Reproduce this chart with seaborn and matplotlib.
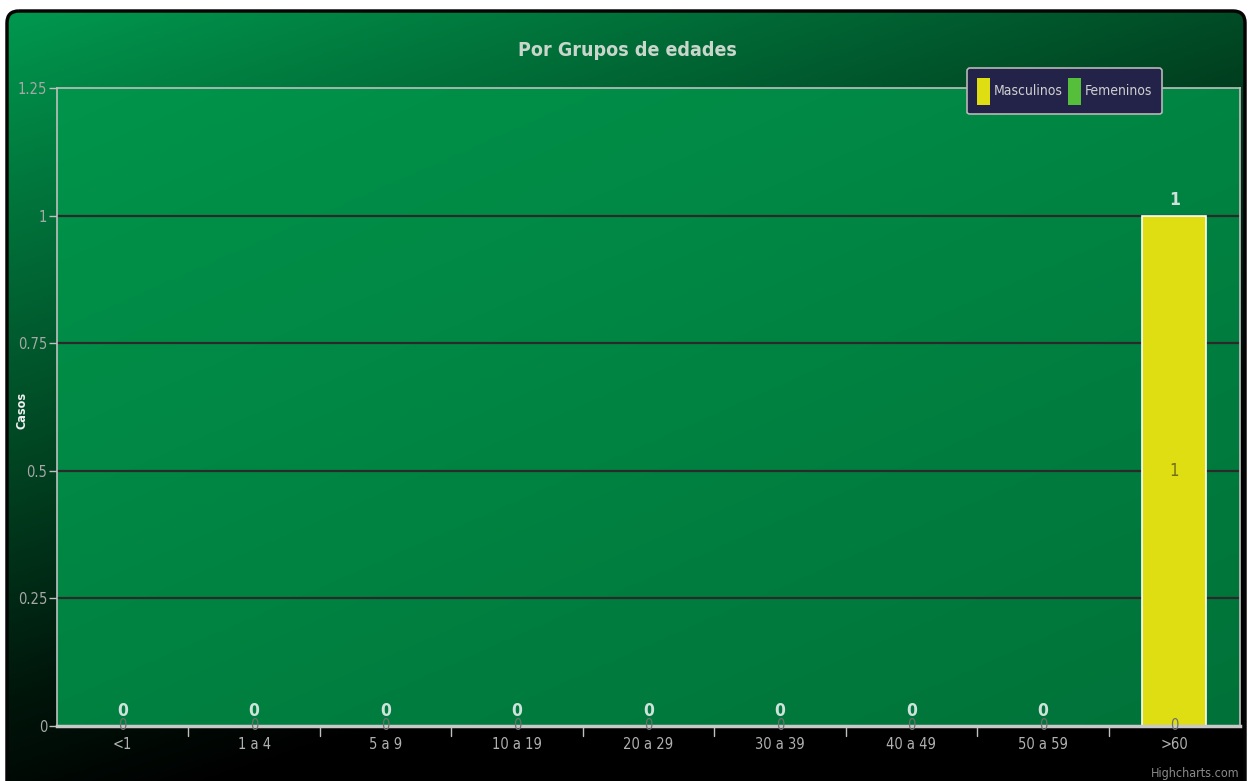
import numpy as np
import pandas as pd
import matplotlib
matplotlib.use("Agg")
import matplotlib.pyplot as plt
from matplotlib.patches import FancyBboxPatch
from matplotlib.colors import LinearSegmentedColormap
from matplotlib import font_manager
import seaborn as sns

# ---- data ----
categories = ["<1", "1 a 4", "5 a 9", "10 a 19", "20 a 29", "30 a 39", "40 a 49", "50 a 59", ">60"]
masculinos = [0, 0, 0, 0, 0, 0, 0, 0, 1]
femeninos = [0, 0, 0, 0, 0, 0, 0, 0, 0]
y_ticks = [0, 0.25, 0.5, 0.75, 1, 1.25]
y_tick_labels = ["0", "0.25", "0.5", "0.75", "1", "1.25"]
title = "Por Grupos de edades"
y_title = "Casos"
series_names = ["Masculinos", "Femeninos"]
credit = "Highcharts.com"

sns.set_theme(style="white")
# prefer a condensed face when one is installed
narrow_fams = [f.name for f in font_manager.fontManager.ttflist
               if f.stretch in ("condensed", "semi-condensed", "extra-condensed")
               or "Narrow" in f.name or "Condensed" in f.name]
base = narrow_fams[0] if narrow_fams else "Liberation Sans"
plt.rcParams["font.family"] = [base, "DejaVu Sans"]
plt.rcParams["font.stretch"] = "condensed"

W, H = 1248, 781
fig = plt.figure(figsize=(W / 100, H / 100), dpi=100)
fig.patch.set_facecolor("white")

# ---- outer chart background: rounded box with diagonal dark-green gradient ----
bg = fig.add_axes([0, 0, 1, 1], zorder=-10)
bg.set_xlim(0, W)
bg.set_ylim(H, 0)
bg.axis("off")
u = np.linspace(0, 1, 400)[None, :]
v = np.linspace(0, 1, 300)[:, None]
t = np.clip(0.45 * u + 0.85 * v, 0, 1)
outer_cmap = LinearSegmentedColormap.from_list(
    "outer", [(0, (0, 152/255, 78/255)), (0.45, (0, 76/255, 38/255)),
              (0.75, (0, 22/255, 11/255)), (0.92, (0, 0, 0)), (1.0, (0, 0, 0))])
img = bg.imshow(t, cmap=outer_cmap, vmin=0, vmax=1, extent=(6, 1246, 790, 10),
                aspect="auto", interpolation="bilinear")
frame = FancyBboxPatch((7, 11), 1238, 800, boxstyle="round,pad=0,rounding_size=12",
                       transform=bg.transData, facecolor="none", edgecolor="#050505", lw=2.5)
bg.add_patch(frame)
img.set_clip_path(frame)

# ---- plot area ----
left, right, top, bottom = 57, 1240, 88, 726
ax = fig.add_axes([left / W, 1 - bottom / H, (right - left) / W, (bottom - top) / H])
ax.set_facecolor("none")

pu = np.linspace(0, 1, 200)[None, :]
pv = np.linspace(0, 1, 120)[:, None]
pt = np.clip(0.45 * pu + 0.55 * pv, 0, 1)
plot_cmap = LinearSegmentedColormap.from_list(
    "plot", [(0, (0, 148/255, 74/255)), (1, (0, 114/255, 57/255))])
ax.imshow(pt, cmap=plot_cmap, vmin=0, vmax=1, extent=(-0.5, 8.5, 0, 1.25),
          aspect="auto", zorder=0, interpolation="bilinear")

df = pd.DataFrame({"grupo": categories, "Masculinos": masculinos, "Femeninos": femeninos})
sns.barplot(data=df, x="grupo", y="Masculinos", color="#DEDE12", width=0.49,
            edgecolor="white", linewidth=1.2, saturation=1, ax=ax, zorder=3)
sns.barplot(data=df, x="grupo", y="Femeninos", color="#55BF3B", width=0.49,
            edgecolor="white", linewidth=1.2, saturation=1, ax=ax, zorder=3)

ax.set_xlim(-0.5, len(categories) - 0.5)
ax.set_ylim(0, 1.25)

for yv in y_ticks[1:-1]:
    ax.axhline(yv, color="#2a2a2a", lw=1.6, zorder=1)

for side in ["top", "left", "right"]:
    ax.spines[side].set_visible(True)
    ax.spines[side].set_color("#c0c0c0")
    ax.spines[side].set_linewidth(1.2)
ax.spines["bottom"].set_color("#c8c8c8")
ax.spines["bottom"].set_linewidth(2.5)
for s in ax.spines.values():
    s.set_zorder(4)

ax.set_yticks(y_ticks)
ax.set_yticklabels(y_tick_labels)
ax.tick_params(axis="y", direction="out", length=6, width=1, color="#c0c0c0",
               labelcolor="#a8a8a8", labelsize=10.5, pad=1, left=True)
ax.set_xticks(range(len(categories)))
ax.set_xticklabels(categories)
ax.tick_params(axis="x", length=0, labelcolor="#b0b0b0", labelsize=10.5, pad=8)
for b in np.arange(0.5, len(categories) - 0.5, 1.0):
    ax.plot([b, b], [0, -0.02], color="#c0c0c0", lw=1, clip_on=False, zorder=4)
ax.set_xlabel("")
ax.set_ylabel("")
fig.text(22 / W, 1 - 410 / H, y_title, rotation=90, ha="center", va="center",
         color="#f0f0f0", fontsize=9, fontweight="bold", family="DejaVu Sans")

# stack totals and point labels (Femeninos sits at the base of each stack)
for i, (m, f) in enumerate(zip(masculinos, femeninos)):
    total = m + f
    ax.text(i, total + 0.012, f"{total:g}", ha="center", va="bottom", fontsize=12.5,
            fontweight="bold", color="#cfe3dc", zorder=5)
    if m > 0:
        ax.text(i, f + m / 2, f"{m:g}", ha="center", va="center", fontsize=12,
                color="#6e6e1a", zorder=5)
    ax.text(i, f / 2, f"{f:g}", ha="center", va="center", fontsize=10.5,
            color="#6f6f6f", zorder=5)

# legend
leg_handles = [plt.Rectangle((0, 0), 1, 1, facecolor="#DEDE12", edgecolor="none"),
               plt.Rectangle((0, 0), 1, 1, facecolor="#55BF3B", edgecolor="none")]
leg = fig.legend(leg_handles, series_names, loc="upper right",
                 bbox_to_anchor=(1162 / W, 1 - 68 / H), ncol=2, fontsize=10,
                 frameon=True, fancybox=True, handlelength=0.9, handleheight=2.6,
                 handletextpad=0.3, columnspacing=0.4, borderpad=0.7,
                 borderaxespad=0, labelcolor="#d0d0d0")
leg.get_frame().set_facecolor("#23234a")
leg.get_frame().set_edgecolor("#b8b8b8")
leg.get_frame().set_linewidth(1.2)
leg.get_frame().set_alpha(1)

fig.text(627 / W, 1 - 50 / H, title, ha="center", va="center", fontsize=14,
         fontweight="bold", color="#c9d6cc")
fig.text(1240 / W, 1 - 773 / H, credit, ha="right", va="center", fontsize=9,
         color="#8a8a8a")

fig.savefig("out.png", dpi=100)
